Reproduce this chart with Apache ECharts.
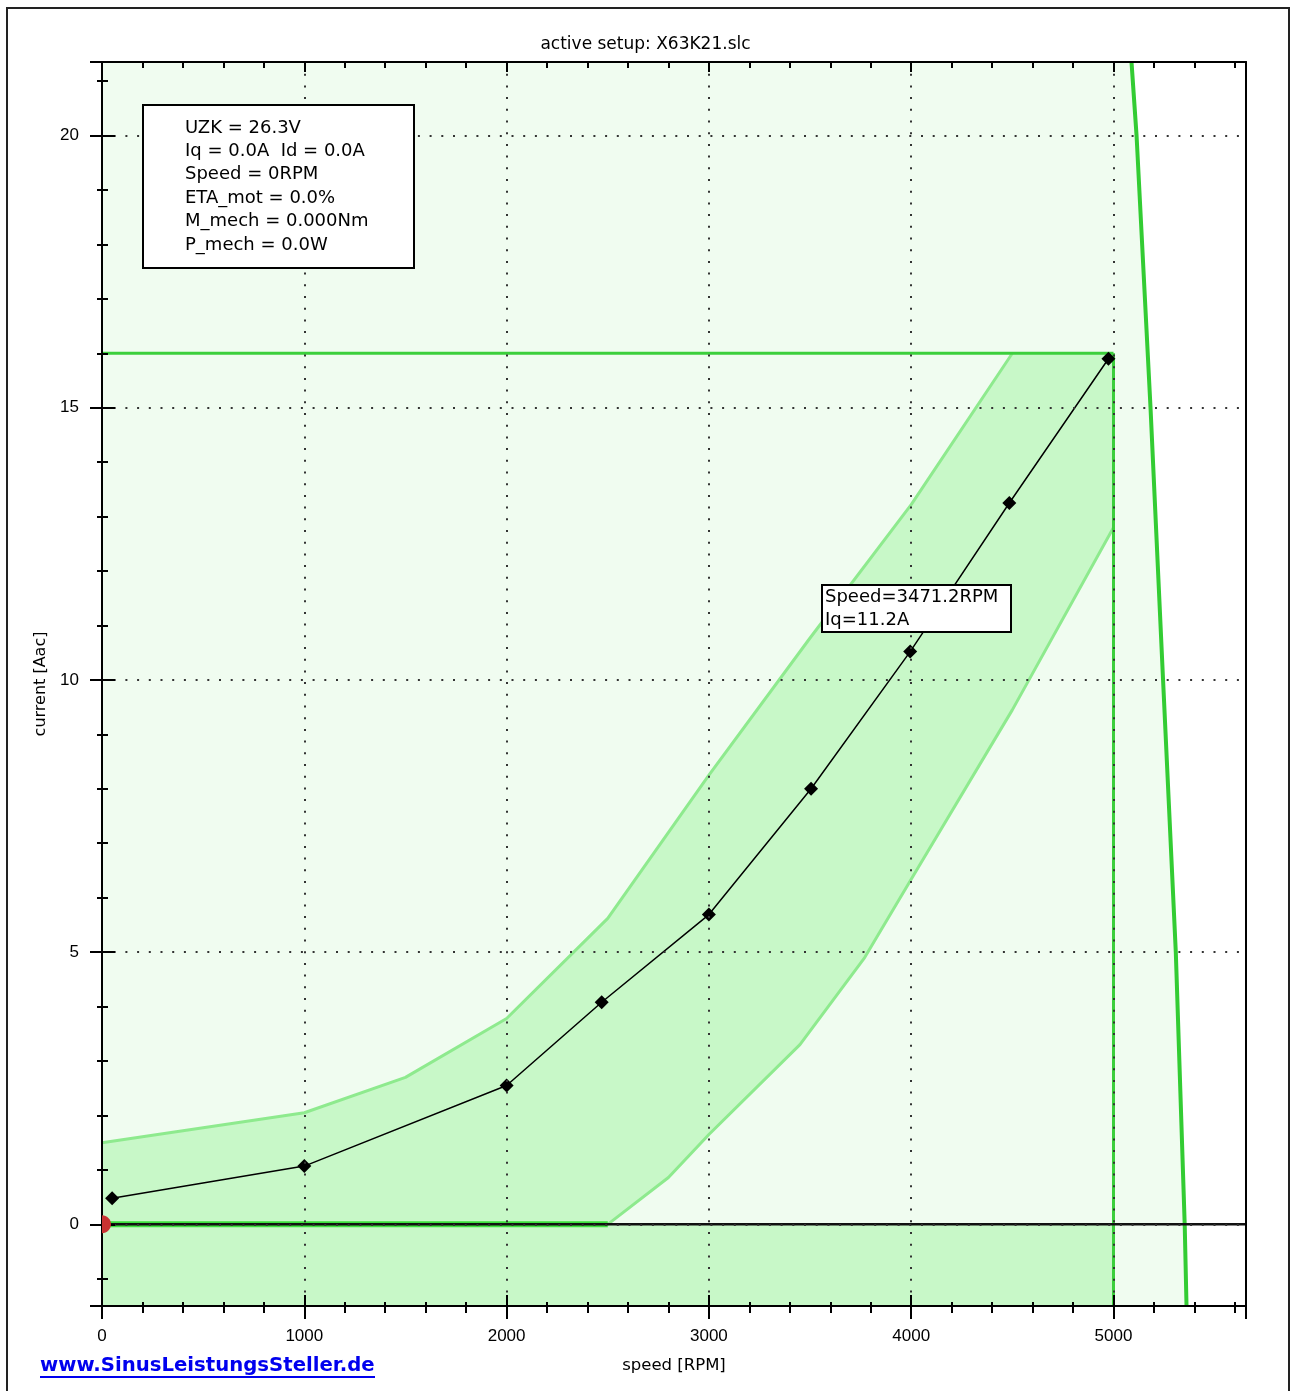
<!DOCTYPE html>
<html><head><meta charset="utf-8">
<script src="https://cdn.jsdelivr.net/npm/echarts@6/dist/echarts.min.js"></script>
<style>html,body{margin:0;padding:0;background:#fff}#c{width:1291px;height:1391px}</style>
</head><body><div id="c"></div>
<script>
// ---- data ----
const titleText = 'active setup: X63K21.slc';
const xAxisName = 'speed [RPM]';
const yAxisName = 'current [Aac]';
const speedMin = 0, speedMax = 5655;
const currentMin = -1.5, currentMax = 21.35;
const speedStep = 1000, currentStep = 5;

const measSpeed   = [50, 1000, 2000, 2470, 3000, 3505, 3995, 4485, 4975];
const measCurrent = [0.48, 1.07, 2.55, 4.08, 5.69, 8.0, 10.52, 13.25, 15.9];

const bandUpperSpeed   = [0, 1000, 1500, 2000, 2500, 3000, 3500, 4000, 4500];
const bandUpperCurrent = [1.5, 2.05, 2.7, 3.78, 5.62, 8.25, 10.77, 13.22, 16.0];

const bandLowerSpeed   = [0, 2500, 2800, 3000, 3450, 3770, 4000, 4500, 5000];
const bandLowerCurrent = [0, 0, 0.86, 1.65, 3.3, 4.9, 6.34, 9.45, 12.8];

const limitSpeed   = [5089, 5114, 5183, 5245, 5308, 5352, 5361];
const limitCurrent = [21.35, 20, 15, 10, 5, 0, -1.5];

const maxCurrent = 16;
const maxSpeed = 5000;
const redDot = [0, 0];

const infoLines = ['UZK = 26.3V', 'Iq = 0.0A  Id = 0.0A', 'Speed = 0RPM', 'ETA_mot = 0.0%', 'M_mech = 0.000Nm', 'P_mech = 0.0W'];
const cursorLines = ['Speed=3471.2RPM', 'Iq=11.2A'];
const linkText = 'www.SinusLeistungsSteller.de';

// ---- helpers ----
const zip = (xs, ys) => xs.map((x, i) => [x, ys[i]]);
const upperPts = zip(bandUpperSpeed, bandUpperCurrent);
const lowerPts = zip(bandLowerSpeed, bandLowerCurrent);
const limitPts = zip(limitSpeed, limitCurrent);

const palePoly = () => [[speedMin, currentMin], [speedMin, currentMax]].concat(limitPts);
const mediumPoly = () => {
  const lowerFromKnee = lowerPts.filter((p, i) => i > 0);
  return [[speedMin, currentMin], [maxSpeed, currentMin], [maxSpeed, 0]]
    .concat(lowerFromKnee)
    .concat([[maxSpeed, maxCurrent]])
    .concat(upperPts.slice().reverse());
};
function polySeries(fn, fill, z) {
  return {
    type: 'custom', z: z, clip: true, silent: true, data: [[0, 0]],
    renderItem: function (params, api) {
      return { type: 'polygon', shape: { points: fn().map(p => api.coord(p)) }, style: { fill: fill } };
    }
  };
}
function lineSeries(data, color, width, z, extra) {
  return Object.assign({
    type: 'line', data: data, z: z, symbol: 'none', silent: true, animation: false,
    lineStyle: { color: color, width: width }
  }, extra || {});
}

const chart = echarts.init(document.getElementById('c'), null, { renderer: 'canvas' });
const tickFont = { fontFamily: 'Liberation Sans', fontSize: 17, color: '#000', formatter: v => String(v) };
const dotted = { color: '#333', width: 2, type: [2, 9.7] };
const blackAxis = { show: true, onZero: false, lineStyle: { color: '#000', width: 2 } };

const option = {
  animation: false,
  backgroundColor: '#fff',
  title: {
    text: titleText, left: 'center', top: 31,
    textStyle: { fontFamily: 'DejaVu Sans', fontSize: 17, fontWeight: 'normal', color: '#000' }
  },
  grid: { left: 102, top: 62, right: 45, bottom: 85, show: false },
  xAxis: [
    {
      type: 'value', position: 'bottom', min: speedMin, max: speedMax,
      minInterval: speedStep, maxInterval: speedStep, z: 10,
      axisLine: blackAxis,
      axisTick: { show: true, inside: false, length: 13, lineStyle: { color: '#000', width: 2 } },
      minorTick: { show: true, splitNumber: 5, length: 7, lineStyle: { color: '#000', width: 2 } },
      axisLabel: Object.assign({ margin: 22, showMaxLabel: false }, tickFont),
      splitLine: { show: true, lineStyle: dotted },
      name: xAxisName, nameLocation: 'middle', nameGap: 51,
      nameTextStyle: { fontFamily: 'DejaVu Sans', fontSize: 16.5, color: '#000' }
    },
    {
      type: 'value', position: 'bottom', min: speedMin, max: speedMax,
      minInterval: speedStep, maxInterval: speedStep, z: 10,
      axisLine: { show: false, onZero: false },
      axisTick: { show: true, inside: true, length: 11, lineStyle: { color: '#000', width: 2 } },
      minorTick: { show: true, splitNumber: 5, length: 4, lineStyle: { color: '#000', width: 2 } },
      axisLabel: { show: false }, splitLine: { show: false }
    },
    {
      type: 'value', position: 'top', min: speedMin, max: speedMax,
      minInterval: speedStep, maxInterval: speedStep, z: 11,
      axisLine: blackAxis,
      axisTick: { show: true, inside: true, length: 10, lineStyle: { color: '#000', width: 2 } },
      minorTick: { show: true, splitNumber: 5, length: 6, lineStyle: { color: '#000', width: 2 } },
      axisLabel: { show: false }, splitLine: { show: false }
    }
  ],
  yAxis: [
    {
      type: 'value', position: 'left', min: currentMin, max: currentMax,
      minInterval: currentStep, maxInterval: currentStep, z: 10,
      axisLine: blackAxis,
      axisTick: { show: true, inside: false, length: 12, lineStyle: { color: '#000', width: 2 } },
      minorTick: { show: true, splitNumber: 5, length: 5, lineStyle: { color: '#000', width: 2 } },
      axisLabel: Object.assign({ margin: 23, showMinLabel: false, showMaxLabel: false }, tickFont),
      splitLine: { show: true, lineStyle: dotted },
      name: yAxisName, nameLocation: 'middle', nameGap: 51, nameRotate: 90,
      nameTextStyle: { fontFamily: 'DejaVu Sans', fontSize: 16, color: '#000' }
    },
    {
      type: 'value', position: 'left', min: currentMin, max: currentMax,
      minInterval: currentStep, maxInterval: currentStep, z: 10,
      axisLine: { show: false, onZero: false },
      axisTick: { show: true, inside: true, length: 13, lineStyle: { color: '#000', width: 2 } },
      minorTick: { show: true, splitNumber: 5, length: 6, lineStyle: { color: '#000', width: 2 } },
      axisLabel: { show: false }, splitLine: { show: false }
    },
    {
      type: 'value', position: 'right', min: currentMin, max: currentMax, z: 11,
      axisLine: blackAxis, axisTick: { show: false }, axisLabel: { show: false }, splitLine: { show: false }
    }
  ],
  series: [
    polySeries(palePoly, '#f0fcf0', 1),
    polySeries(mediumPoly, '#c8f8c8', 1),
    lineSeries(upperPts, '#8eea8e', 3, 2),
    lineSeries(lowerPts, '#8eea8e', 3, 2),
    lineSeries([[speedMin, 0], [bandLowerSpeed[1], 0]], '#3ee03e', 6, 2),
    lineSeries([[speedMin, maxCurrent], [maxSpeed, maxCurrent]], '#3ccf3c', 3, 3),
    lineSeries([[maxSpeed, maxCurrent], [maxSpeed, currentMin]], '#3ccf3c', 3, 3),
    lineSeries(limitPts, '#33cc33', 4, 3),
    lineSeries([[speedMin, 0], [speedMax, 0]], '#111', 2.5, 4),
    {
      type: 'line', z: 5, silent: true, animation: false,
      data: zip(measSpeed, measCurrent),
      symbol: 'diamond', symbolSize: 14, showAllSymbol: true,
      lineStyle: { color: '#000', width: 1.5 },
      itemStyle: { color: '#000' }
    },
    {
      type: 'custom', z: 12, clip: true, silent: true, data: [redDot],
      renderItem: function (params, api) {
        const p = api.coord([api.value(0), api.value(1)]);
        return { type: 'ellipse', shape: { cx: p[0], cy: p[1], rx: 9, ry: 9 }, style: { fill: '#c83232' } };
      }
    }
  ],
  graphic: [
    { type: 'rect', z: 100, shape: { x: 7, y: 8, width: 1282, height: 1395 }, style: { fill: 'none', stroke: '#222', lineWidth: 2 } },
    { type: 'rect', z: 100, shape: { x: 143, y: 105, width: 271, height: 163 }, style: { fill: '#fff', stroke: '#000', lineWidth: 2 } }
  ].concat(infoLines.map((t, i) => ({
    type: 'text', z: 101, style: { text: t, x: 185, y: 128 + i * 23.4, verticalAlign: 'middle', align: 'left', font: '18px "DejaVu Sans"', fill: '#000' }
  }))).concat([
    { type: 'rect', z: 100, shape: { x: 822, y: 585, width: 189, height: 47 }, style: { fill: '#fff', stroke: '#000', lineWidth: 2 } }
  ]).concat(cursorLines.map((t, i) => ({
    type: 'text', z: 101, style: { text: t, x: 825, y: 597 + i * 23, verticalAlign: 'middle', align: 'left', font: '18px "DejaVu Sans"', fill: '#000' }
  }))).concat([
    { type: 'text', z: 101, style: { text: linkText, x: 40, y: 1366, verticalAlign: 'middle', align: 'left', font: 'bold 19.7px "DejaVu Sans"', fill: '#0000ee' } },
    { type: 'line', z: 101, shape: { x1: 40, y1: 1377, x2: 375, y2: 1377 }, style: { stroke: '#0000ee', lineWidth: 2 } }
  ])
};
chart.setOption(option);
</script>
</body></html>
